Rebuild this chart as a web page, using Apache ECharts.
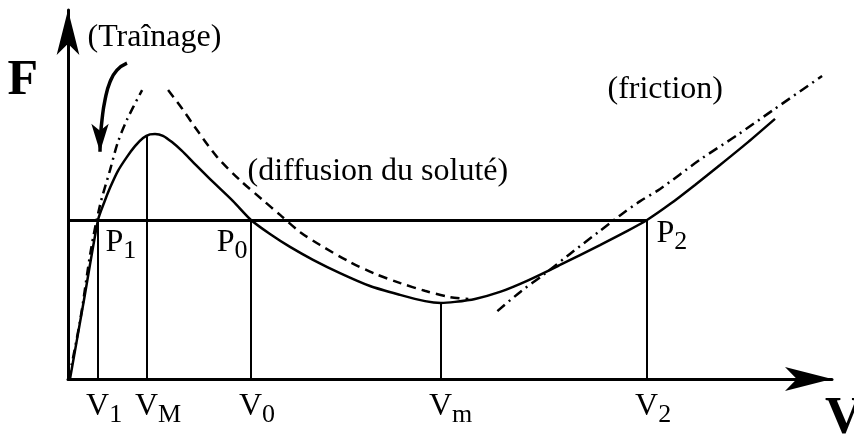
<!DOCTYPE html>
<html><head><meta charset="utf-8">
<script src="https://cdn.jsdelivr.net/npm/echarts@6/dist/echarts.min.js"></script>
<style>html,body{margin:0;padding:0;background:#fff}#c{width:854px;height:436px}</style>
</head><body><div id="c"></div>
<script>
// ---- data (arbitrary units: V on x, F on y) ----
const totalCurve = [[0.26,0],[2.09,21.4],[3.93,43.1],[4.71,47.7],[5.5,51.8],[6.54,56.4],[7.72,60.2],[8.77,63.1],[9.82,65.3],[10.73,66.3],[11.39,66.4],[12.43,65.9],[13.61,64.2],[14.92,61.8],[16.36,58.8],[18.98,53.4],[21.6,48.2],[23.95,43.1],[26.44,39.3],[29.06,35.8],[32.07,32.3],[35.6,28.7],[39.53,25.2],[43.46,22.8],[46.73,21.1],[48.82,20.6],[50.65,20.9],[53.27,21.7],[56.54,23.6],[60.08,26.6],[64.4,30.9],[69.63,36.3],[72.91,39.8],[75.79,43.1],[78.8,47.4],[82.07,52.6],[85.34,58.0],[89.01,64.2],[92.54,70.5]];
const trainageCurve = [[0.1,0],[1.6,16.0],[3.0,35.0],[4.2,47.2],[5.5,56.6],[6.5,64.0],[7.7,70.2],[9.7,78.3]];
const diffusionCurve = [[13.1,78.3],[14.9,73.4],[16.6,68.3],[19.5,60.2],[22.5,53.9],[25.5,48.5],[27.8,44.4],[30.4,39.8],[33.0,36.3],[36.9,31.7],[40.2,28.5],[43.5,26.0],[46.7,23.9],[50.0,22.2],[52.4,21.7]];
const frictionCurve = [[56.2,18.4],[59.2,23.6],[62.4,28.5],[65.7,33.9],[69.6,40.1],[72.3,44.4],[74.9,48.2],[77.5,51.5],[82.7,59.4],[87.6,66.1],[92.3,72.9],[98.7,82.1]];
const trainageArrow = [[7.72,85.6],[6.41,83.7],[5.5,80.5],[4.84,75.6],[4.45,70.2],[4.25,65.5],[4.19,61.6]];
const F0 = 43.1;                                  // horizontal force level
const vValues = [3.93, 10.34, 23.95, 48.82, 75.79]; // V1, VM, V0, Vm, V2
const vTops = [43.1, 65.9, 43.1, 20.6, 43.1];
const vLabels = [['V','1'],['V','M'],['V','0'],['V','m'],['V','2']];
const pLabels = [['P','1'],['P','0'],['P','2']];
const annotations = ['(Traînage)', '(diffusion du soluté)', '(friction)'];
const axisNames = ['V', 'F'];

const serif = 'Liberation Serif';
const rich = {
  v: {fontFamily: serif, fontSize: 32, color: '#000'},
  s: {fontFamily: serif, fontSize: 26, color: '#000', padding: [18,0,0,0]}
};
const sub = (a) => '{v|' + a[0] + '}{s|' + a[1] + '}';
const black = '#000';
const noEmph = {disabled: true};
const hidden = {color: 'rgba(0,0,0,0)'};

const chart = echarts.init(document.getElementById('c'));
chart.setOption({
  animation: false,
  backgroundColor: '#fff',
  grid: {left: 68, right: 22, top: 10, bottom: 57, containLabel: false, outerBoundsMode: 'none'},
  xAxis: {
    type: 'value', min: 0, max: 100,
    splitLine: {show: false}, axisTick: {show: false}, axisLabel: {show: false},
    axisLine: {show: true, onZero: false, symbol: ['none','arrow'], symbolSize: [18,47],
      lineStyle: {color: black, width: 3}},
    name: axisNames[0], nameLocation: 'end', nameGap: -7,
    nameTextStyle: {fontFamily: serif, fontWeight: 'bold', fontSize: 52, color: black,
      align: 'left', verticalAlign: 'top', padding: [15,0,0,0]}
  },
  yAxis: {
    type: 'value', min: 0, max: 100,
    splitLine: {show: false}, axisTick: {show: false}, axisLabel: {show: false},
    axisLine: {show: true, onZero: false, symbol: ['none','arrow'], symbolSize: [17,45],
      lineStyle: {color: black, width: 3}},
    name: axisNames[1], nameLocation: 'end', nameGap: 0,
    nameTextStyle: {fontFamily: serif, fontWeight: 'bold', fontSize: 50, color: black,
      align: 'right', verticalAlign: 'top', padding: [46,30,0,0]}
  },
  series: [
    {
      name: 'total', type: 'line', data: totalCurve, smooth: 0.25, showSymbol: false,
      lineStyle: {color: black, width: 2.5}, emphasis: noEmph, silent: true,
      markLine: {
        silent: true, symbol: ['none','none'], label: {show: false}, emphasis: noEmph,
        lineStyle: {color: black, width: 2, type: 'solid'},
        data: vValues.map((v, i) => [{coord: [v, 0]}, {coord: [v, vTops[i]]}])
          .concat([[{coord: [0, F0], lineStyle: {width: 3}}, {coord: [vValues[4], F0]}]])
      },
      markPoint: {
        silent: true, symbol: 'circle', symbolSize: 1, itemStyle: hidden,
        label: {show: true, rich: rich, color: black},
        data: [
          {coord: [vValues[0], F0], label: {formatter: sub(pLabels[0]), position: [8, 1], align: 'left', verticalAlign: 'top'}},
          {coord: [vValues[2], F0], label: {formatter: sub(pLabels[1]), position: [-3, 1], align: 'right', verticalAlign: 'top'}},
          {coord: [vValues[4], F0], label: {formatter: sub(pLabels[2]), position: [10, -8], align: 'left', verticalAlign: 'top'}}
        ].concat(vValues.map((v, i) => ({
          coord: [v, 0],
          label: {formatter: sub(vLabels[i]), position: [-11.5, 6], align: 'left', verticalAlign: 'top'}
        })))
      }
    },
    {
      name: 'trainage', type: 'line', data: trainageCurve, smooth: 0.3, showSymbol: false,
      lineStyle: {color: black, width: 2.5, type: [9,5,2,5]}, emphasis: noEmph, silent: true,
      markPoint: {
        silent: true, symbol: 'circle', symbolSize: 1, itemStyle: hidden,
        label: {show: true, fontFamily: serif, fontSize: 32, color: black},
        data: [{coord: [2.62, 92.4], label: {formatter: annotations[0], position: [0, 0], align: 'left', verticalAlign: 'middle'}}]
      }
    },
    {
      name: 'trainageArrow', type: 'line', smooth: 0.5, silent: true, emphasis: noEmph,
      lineStyle: {color: black, width: 3.5},
      itemStyle: {color: black},
      data: trainageArrow.map((p, i) => i === trainageArrow.length - 1
        ? {value: p, symbol: 'arrow', symbolSize: [13, 28], symbolRotate: 180}
        : {value: p, symbol: 'none'})
    },
    {
      name: 'diffusion', type: 'line', data: diffusionCurve, smooth: 0.3, showSymbol: false,
      lineStyle: {color: black, width: 2.5, type: [9,6]}, emphasis: noEmph, silent: true,
      markPoint: {
        silent: true, symbol: 'circle', symbolSize: 1, itemStyle: hidden,
        label: {show: true, fontFamily: serif, fontSize: 32, color: black},
        data: [{coord: [23.56, 56.2], label: {formatter: annotations[1], position: [0, 0], align: 'left', verticalAlign: 'middle'}}]
      }
    },
    {
      name: 'friction', type: 'line', data: frictionCurve, smooth: 0.3, showSymbol: false,
      lineStyle: {color: black, width: 2.5, type: [10,5,2,5]}, emphasis: noEmph, silent: true,
      markPoint: {
        silent: true, symbol: 'circle', symbolSize: 1, itemStyle: hidden,
        label: {show: true, fontFamily: serif, fontSize: 32, color: black},
        data: [{coord: [70.68, 78.3], label: {formatter: annotations[2], position: [0, 0], align: 'left', verticalAlign: 'middle'}}]
      }
    }
  ]
});
</script></body></html>
